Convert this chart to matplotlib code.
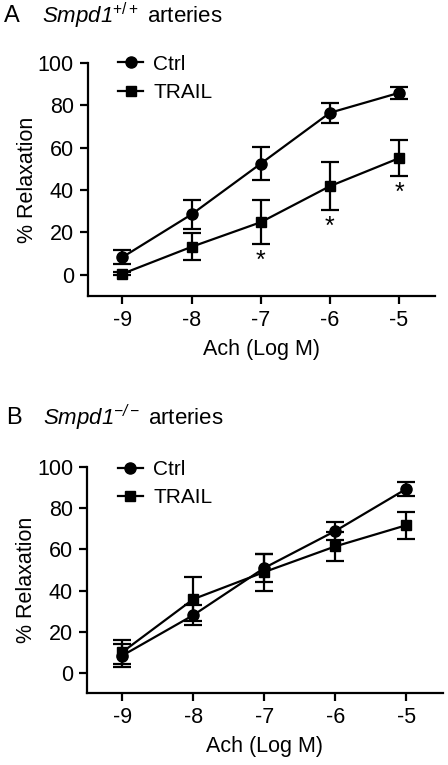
import matplotlib.pyplot as plt

plt.rcParams.update({
    "font.family": ["Liberation Sans", "DejaVu Sans"],
    "mathtext.fontset": "custom",
    "mathtext.rm": "Liberation Sans",
    "mathtext.it": "Liberation Sans:italic",
    "mathtext.sf": "Liberation Sans:italic",
    "axes.linewidth": 1.6,
})

# data
log_ach = [-9, -8, -7, -6, -5]

a_ctrl = [8.3, 28.5, 52.4, 76.4, 85.8]
a_ctrl_err = [3.3, 7.0, 7.7, 4.6, 2.8]
a_trail = [0.5, 13.2, 24.8, 41.8, 55.0]
a_trail_err = [0.8, 6.4, 10.4, 11.4, 8.4]
a_star_x = [-7, -6, -5]
a_star_y = [6.5, 22.5, 38.5]

b_ctrl = [8.3, 28.0, 51.0, 69.0, 89.5]
b_ctrl_err = [5.5, 5.0, 7.0, 4.5, 3.5]
b_trail = [10.0, 35.8, 49.0, 61.5, 71.8]
b_trail_err = [5.9, 10.6, 9.0, 7.0, 6.5]

yticks = [0, 20, 40, 60, 80, 100]

fig = plt.figure(figsize=(4.48, 7.65), dpi=100)
ax_a = fig.add_axes([0.196, 0.613, 0.775, 0.305])
ax_b = fig.add_axes([0.194, 0.094, 0.795, 0.295])


def panel(ax, ctrl, ctrl_err, trail, trail_err):
    ax.errorbar(log_ach, ctrl, yerr=ctrl_err, color="black", marker="o",
                markersize=8, lw=1.6, capsize=6.5, capthick=1.6,
                elinewidth=1.6, label="Ctrl", zorder=3)
    ax.errorbar(log_ach, trail, yerr=trail_err, color="black", marker="s",
                markersize=7.5, lw=1.6, capsize=6.5, capthick=1.6,
                elinewidth=1.6, label="TRAIL", zorder=3)
    ax.set_xlim(-9.5, -4.48)
    ax.set_ylim(-10, 100)
    ax.set_xticks(log_ach)
    ax.set_xticklabels([str(v) for v in log_ach])
    ax.set_yticks(yticks)
    ax.spines["top"].set_visible(False)
    ax.spines["right"].set_visible(False)
    ax.tick_params(direction="out", length=6, width=1.6, labelsize=15.5, pad=4)
    ax.set_xlabel("Ach (Log M)", fontsize=15.5, labelpad=6)
    ax.set_ylabel("% Relaxation", fontsize=15.5, labelpad=0)
    handles, labels = ax.get_legend_handles_labels()
    handles = [h[0] for h in handles]
    ax.legend(handles, labels, loc="upper left", bbox_to_anchor=(0.063, 1.07),
              frameon=False, fontsize=15, handlelength=1.2, handletextpad=0.5,
              labelspacing=0.45, borderaxespad=0)


panel(ax_a, a_ctrl, a_ctrl_err, a_trail, a_trail_err)
panel(ax_b, b_ctrl, b_ctrl_err, b_trail, b_trail_err)

for x, y in zip(a_star_x, a_star_y):
    ax_a.text(x, y, "*", ha="center", va="center", fontsize=18)

fig.text(0.008, 0.979, "A", fontsize=17, va="center", ha="left")
fig.text(0.093, 0.979, r"$\mathsf{Smpd1}^{\mathrm{+/+}}$ arteries",
         fontsize=16, va="center", ha="left")
fig.text(0.013, 0.454, "B", fontsize=17, va="center", ha="left")
fig.text(0.097, 0.454, r"$\mathsf{Smpd1}^{\mathsf{-/-}}$ arteries",
         fontsize=16, va="center", ha="left")

fig.savefig("out.png", dpi=100)
